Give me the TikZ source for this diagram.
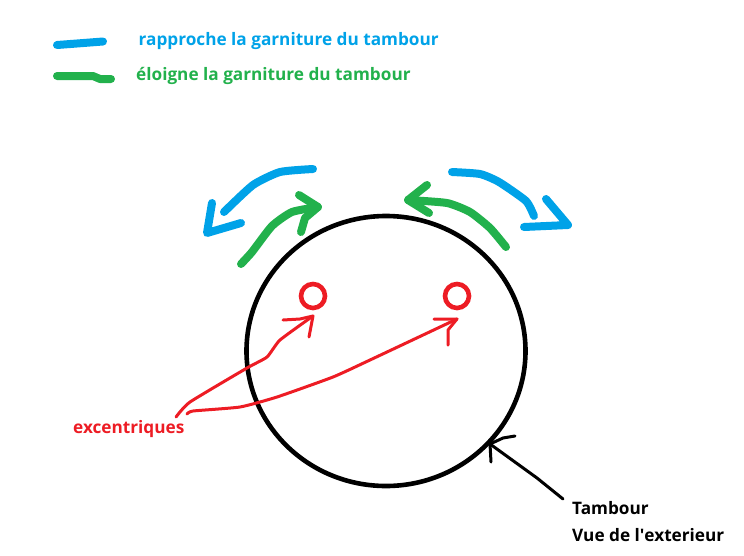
\documentclass[tikz,border=0pt]{standalone}
\usepackage{fontspec}
\usetikzlibrary{shapes.geometric}
\setmainfont{Open Sans}
\definecolor{paintblue}{HTML}{00A2E8}
\definecolor{paintgreen}{HTML}{22B14C}
\definecolor{paintred}{HTML}{ED1C24}
\tikzset{
  feutre/.style={line width=8pt, line cap=round, line join=round},
  trait/.style={line width=3pt, line cap=round, line join=round},
  legende/.style={anchor=west, inner sep=0pt, font=\bfseries\fontsize{17.2}{20}\selectfont}
}
\begin{document}
\begin{tikzpicture}[x=1pt, y=-1pt]
\useasboundingbox (0,0) rectangle (744,555);
\node[legende, text=paintblue] (rapproche) at (138.5, 41.5) {rapproche la garniture du tambour};
\node[legende, text=paintgreen] (eloigne) at (136, 75.5) {éloigne la garniture du tambour};
\draw[feutre, paintblue] (57,45) -- (77,43.5) -- (103,41.5);
\draw[feutre, paintgreen] (57,76) -- (93,76) -- (100,79) -- (111,79);
% tambour
\node[draw, ellipse, minimum width=279pt, minimum height=270pt, inner sep=0pt, line width=4.6pt] (tambour) at (386,351) {};
% fleches du haut
\draw[feutre, paintblue] plot[smooth, tension=.35] coordinates {(313,169) (280,172) (253,185) (224,212)};
\draw[feutre, paintblue] (212,203) -- (207,233) -- (241,223);
\draw[feutre, paintgreen] plot[smooth, tension=.35] coordinates {(241,264) (252,252) (272,226) (292,212) (318,207)};
\draw[feutre, paintgreen] (299,195) -- (318,207) -- (305,218) -- (301,232);
\draw[feutre, paintblue] plot[smooth, tension=.35] coordinates {(452,172) (480,174) (499,182) (526,201) (534,216)};
\draw[feutre, paintblue] (546,199) -- (568,225) -- (524,227);
\draw[feutre, paintgreen] plot[smooth, tension=.35] coordinates {(506,247) (490,228) (470,212) (447,203) (408,200)};
\draw[feutre, paintgreen] (427,185) -- (408,200) -- (429,213);
% excentriques
\node[draw=paintred, circle, minimum size=24pt, inner sep=0pt, line width=4.6pt] (exc1) at (313,296) {};
\node[draw=paintred, circle, minimum size=24pt, inner sep=0pt, line width=4.6pt] (exc2) at (457,296) {};
\node[legende, text=paintred] (excentriques) at (73, 429.5) {excentriques};
\draw[trait, paintred] plot[smooth, tension=.3] coordinates {(176,417) (190,402) (247,368) (267,357) (280,340) (313,316)};
\draw[trait, paintred] (283,320) -- (300,319) -- (313,316) -- (309,337);
\draw[trait, paintred] plot[smooth, tension=.3] coordinates {(187,414) (193,411) (240,407) (277,397) (333,377) (370,360) (457,319)};
\draw[trait, paintred] (434,319) -- (457,319) -- (448,330) -- (448,345);
% legende du tambour
\node[legende, text=black] (tambourtxt) at (572, 508) {Tambour};
\node[legende, text=black] (vue) at (572, 535) {Vue de l\textquotesingle exterieur};
\coordinate (pointe) at (490,444);
\coordinate (queue) at (563,499);
\draw[trait, black] (queue) -- (537,478) -- (pointe);
\draw[trait, black] (515,436) -- (503,438) -- (pointe) -- (491,462);
\end{tikzpicture}
\end{document}
